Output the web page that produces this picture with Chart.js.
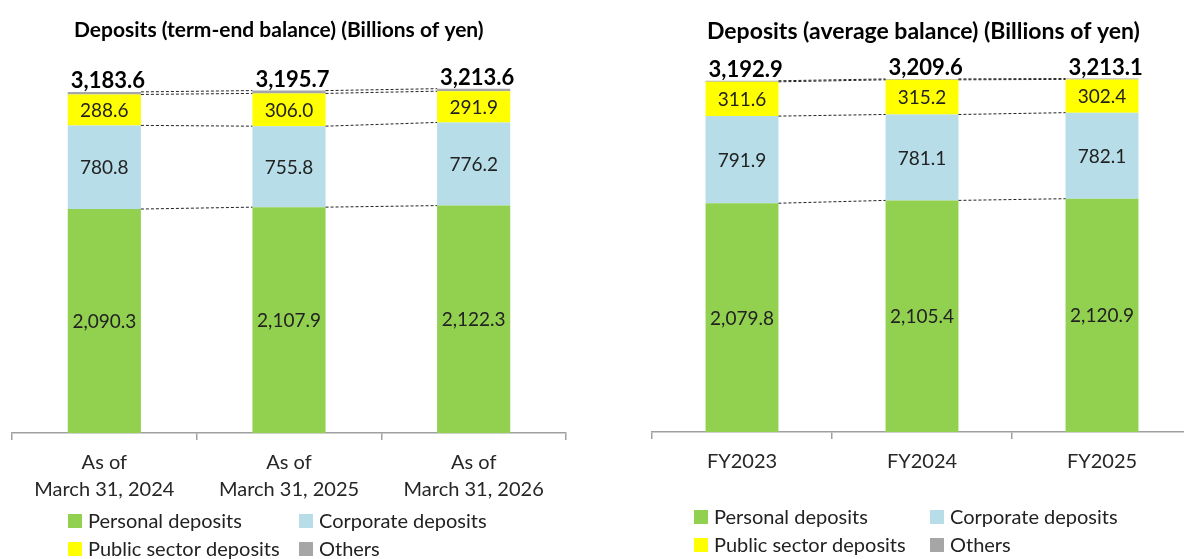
<!DOCTYPE html>
<html>
<head>
<meta charset="utf-8">
<script src="https://cdn.jsdelivr.net/npm/chart.js@4.4.1/dist/chart.umd.min.js"></script>
<style>
html, body { margin:0; padding:0; background:#fff; overflow:hidden; width:1184px; height:559px; }
.box { position:absolute; top:0; height:559px; }
#left { left:0; width:592px; }
#right { left:592px; width:620px; }
</style>
</head>
<body>
<div class="box" id="left"><canvas id="termChart" width="592" height="559"></canvas></div>
<div class="box" id="right"><canvas id="avgChart" width="620" height="559"></canvas></div>
<script>
// term-end balance (Billions of yen)
var termLabels    = [['As of', 'March 31, 2024'], ['As of', 'March 31, 2025'], ['As of', 'March 31, 2026']];
var termPersonal  = [2090.3, 2107.9, 2122.3];
var termCorporate = [780.8, 755.8, 776.2];
var termPublic    = [288.6, 306.0, 291.9];
var termOthers    = [23.9, 26.0, 23.2];
var termTotal     = [3183.6, 3195.7, 3213.6];

// average balance (Billions of yen)
var avgLabels    = ['FY2023', 'FY2024', 'FY2025'];
var avgPersonal  = [2079.8, 2105.4, 2120.9];
var avgCorporate = [791.9, 781.1, 782.1];
var avgPublic    = [311.6, 315.2, 302.4];
var avgOthers    = [9.6, 7.9, 7.7];
var avgTotal     = [3192.9, 3209.6, 3213.1];

var seriesNames  = ['Personal deposits', 'Corporate deposits', 'Public sector deposits', 'Others'];
var seriesColors = ['#92d050', '#b7dde8', '#ffff00', '#a6a6a6'];

var FONT = 'Lato, "Open Sans", sans-serif';

function fmt(v) {
	return v.toLocaleString('en-US', {minimumFractionDigits: 1, maximumFractionDigits: 1});
}

// dashed connectors, value labels, totals, title and legend
var decorPlugin = {
	id: 'decor',
	afterDatasetsDraw: function(chart, args, o) {
		var ctx = chart.ctx;
		var n = chart.data.labels.length;
		var d, i, el, nx;

		ctx.save();
		// connectors between the bars at each stack boundary
		ctx.setLineDash([3, 2]);
		ctx.strokeStyle = '#222';
		ctx.lineWidth = 1;
		for (d = 0; d < chart.data.datasets.length; d++) {
			var bars = chart.getDatasetMeta(d).data;
			for (i = 0; i < n - 1; i++) {
				el = bars[i]; nx = bars[i + 1];
				ctx.beginPath();
				ctx.moveTo(el.x + el.width / 2, el.y);
				ctx.lineTo(nx.x - nx.width / 2, nx.y);
				ctx.stroke();
			}
		}
		ctx.setLineDash([]);

		// segment values
		ctx.fillStyle = '#222';
		ctx.textAlign = 'center';
		ctx.textBaseline = 'middle';
		ctx.font = '19px ' + FONT;
		for (d = 0; d < 3; d++) {
			var meta = chart.getDatasetMeta(d);
			meta.data.forEach(function(b, j) {
				ctx.fillText(fmt(chart.data.datasets[d].data[j]), b.x, (b.y + b.base) / 2 + 1);
			});
		}

		// totals above bars
		var top = chart.getDatasetMeta(chart.data.datasets.length - 1).data;
		ctx.textAlign = 'left';
		ctx.textBaseline = 'alphabetic';
		ctx.font = 'bold 22px ' + FONT;
		ctx.fillStyle = '#000';
		o.totals.forEach(function(t, j) {
			ctx.fillText(fmt(t), top[j].x - top[j].width / 2 + 3, top[j].y - o.totalGap);
		});
		ctx.restore();
	},
	afterDraw: function(chart, args, o) {
		var ctx = chart.ctx;
		ctx.save();
		ctx.fillStyle = '#000';
		ctx.font = 'bold ' + o.titleSize + 'px ' + FONT;
		ctx.textAlign = 'left';
		ctx.textBaseline = 'middle';
		ctx.fillText(o.title, o.titleX, o.titleY);

		ctx.font = '20px ' + FONT;
		seriesNames.forEach(function(name, k) {
			var lx = o.legendX[k % 2];
			var ly = o.legendY[Math.floor(k / 2)];
			ctx.fillStyle = seriesColors[k];
			ctx.fillRect(lx, ly - 7, 14, 14);
			ctx.fillStyle = '#222';
			ctx.fillText(name, lx + 20, ly + 1);
		});
		ctx.restore();
	}
};

function makeChart(id, labels, p, c, pub, oth, totals, cfg) {
	var series = [p, c, pub, oth];
	return new Chart(document.getElementById(id), {
		type: 'bar',
		data: {
			labels: labels,
			datasets: series.map(function(s, k) {
				return {
					label: seriesNames[k],
					data: s,
					backgroundColor: seriesColors[k],
					borderWidth: 0,
					barPercentage: cfg.barPct,
					categoryPercentage: 1
				};
			})
		},
		options: {
			responsive: false,
			animation: false,
			layout: { padding: cfg.padding },
			plugins: {
				legend: { display: false },
				tooltip: { enabled: false },
				decor: {
					totals: totals,
					totalGap: cfg.totalGap,
					title: cfg.title,
					titleSize: cfg.titleSize,
					titleX: cfg.titleX,
					titleY: cfg.titleY,
					legendX: cfg.legendX,
					legendY: cfg.legendY
				}
			},
			scales: {
				x: {
					stacked: true,
					grid: { display: true, drawOnChartArea: false, drawTicks: true, tickLength: 7, color: '#a0a0a0', lineWidth: 1.5 },
					border: { display: true, color: '#a0a0a0', width: 1.5 },
					ticks: { color: '#262626', padding: 9, font: { family: FONT, size: 20, lineHeight: 1.35 } },
					afterFit: function(s) { s.height = 80; }
				},
				y: { stacked: true, display: false, min: 0, max: 3500 }
			}
		},
		plugins: [decorPlugin]
	});
}

makeChart('termChart', termLabels, termPersonal, termCorporate, termPublic, termOthers, termTotal, {
	barPct: 0.396,
	padding: { left: 12, right: 26, top: 58, bottom: 46 },
	totalGap: 4,
	title: 'Deposits (term-end balance) (Billions of yen)',
	titleSize: 21,
	titleX: 74,
	titleY: 30,
	legendX: [68, 299],
	legendY: [521, 549]
});

makeChart('avgChart', avgLabels, avgPersonal, avgCorporate, avgPublic, avgOthers, avgTotal, {
	barPct: 0.405,
	padding: { left: 60, right: 20, top: 47, bottom: 47 },
	totalGap: 4,
	title: 'Deposits (average balance) (Billions of yen)',
	titleSize: 23,
	titleX: 115,
	titleY: 32,
	legendX: [102, 338],
	legendY: [517, 545]
});
</script>
</body>
</html>
